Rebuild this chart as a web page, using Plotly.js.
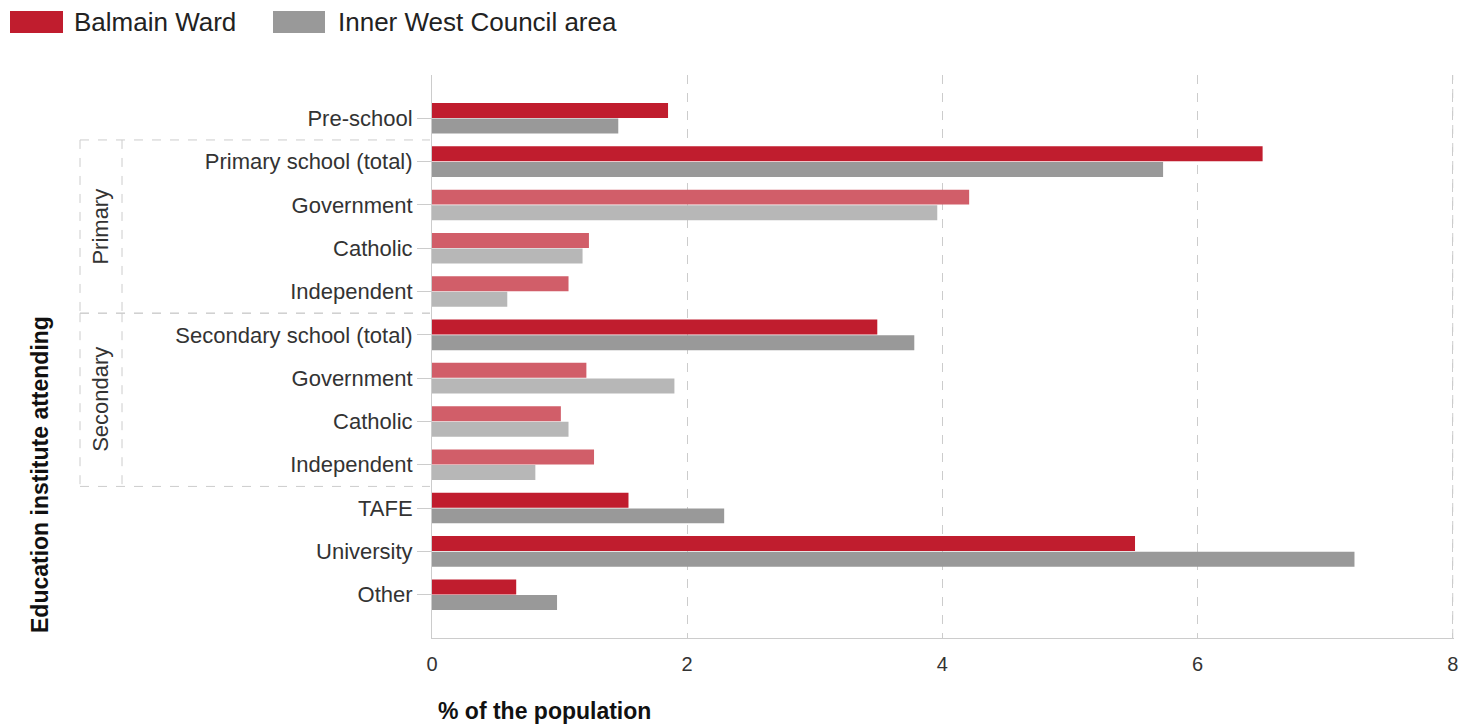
<!DOCTYPE html>
<html>
<head>
<meta charset="utf-8">
<script src="https://cdn.plot.ly/plotly-3.0.1.min.js"></script>
<style>html,body{margin:0;padding:0;background:#fff;}#chart{width:1476px;height:727px;}</style>
</head>
<body>
<div id="chart"></div>
<script>
// ---- data ----
const categories = ["Pre-school","Primary school (total)","Government","Catholic","Independent",
  "Secondary school (total)","Government","Catholic","Independent","TAFE","University","Other"];
const groupOf = ["","Primary","Primary","Primary","Primary","Secondary","Secondary","Secondary","Secondary","","",""];
const isSub = [false,false,true,true,true,false,true,true,true,false,false,false];
const balmainWard = [1.85,6.51,4.21,1.23,1.07,3.49,1.21,1.01,1.27,1.54,5.51,0.66];
const innerWest   = [1.46,5.73,3.96,1.18,0.59,3.78,1.90,1.07,0.81,2.29,7.23,0.98];
const seriesNames = ["Balmain Ward","Inner West Council area"];
const xTicks = [0,2,4,6,8];

// ---- styles ----
const RED = "#c01d2e", RED_L = "#d15e69", GRAY = "#999999", GRAY_L = "#b7b7b7";
const FONT = "'Liberation Sans', Arial, sans-serif";
const idx = categories.map((c,i)=>i);

const W = 1476, H = 727, ML = 432, MR = 22, MT = 75, MB = 89;
const PW = W-ML-MR, PH = H-MT-MB;
const px2x = p => (p-ML)/PW;
const py2y = p => (H-MB-p)/PH;

const traces = [
  {type:"bar", orientation:"h", name:seriesNames[0], x:balmainWard, y:idx,
   marker:{color:isSub.map(s=>s?RED_L:RED)}, showlegend:false, hoverinfo:"x+name"},
  {type:"bar", orientation:"h", name:seriesNames[1], x:innerWest, y:idx,
   marker:{color:isSub.map(s=>s?GRAY_L:GRAY)}, showlegend:false, hoverinfo:"x+name"}
];

// group boxes
const shapes = [];
const annotations = [];
const dash = {color:"#cccccc", width:1, dash:"dash"};
const groups = [];
groupOf.forEach((g,i)=>{
  if(!g) return;
  const last = groups[groups.length-1];
  if(last && last.name===g) last.to=i; else groups.push({name:g, from:i, to:i});
});
groups.forEach(g=>{
  const y0 = g.from-0.5, y1 = g.to+0.5;
  shapes.push({type:"line", xref:"paper", yref:"y", x0:px2x(80), x1:px2x(430), y0:y0, y1:y0, line:dash});
  shapes.push({type:"line", xref:"paper", yref:"y", x0:px2x(80), x1:px2x(430), y0:y1, y1:y1, line:dash});
  shapes.push({type:"line", xref:"paper", yref:"y", x0:px2x(80), x1:px2x(80), y0:y0, y1:y1, line:dash});
  shapes.push({type:"line", xref:"paper", yref:"y", x0:px2x(122), x1:px2x(122), y0:y0, y1:y1, line:dash});
  annotations.push({xref:"paper", yref:"y", x:px2x(101), y:(y0+y1)/2, text:g.name, showarrow:false,
    textangle:-90, font:{family:FONT, size:22, color:"#333"}, xanchor:"center", yanchor:"middle"});
});

// custom legend
const legendItems = [
  {name:seriesNames[0], color:RED, r0:10, r1:63, t:72},
  {name:seriesNames[1], color:GRAY, r0:273, r1:325, t:336}
];
legendItems.forEach(l=>{
  shapes.push({type:"rect", xref:"paper", yref:"paper", x0:px2x(l.r0), x1:px2x(l.r1), y0:py2y(33), y1:py2y(11),
    fillcolor:l.color, line:{width:0}});
  annotations.push({xref:"paper", yref:"paper", x:px2x(l.t), y:py2y(22), text:l.name, showarrow:false,
    xanchor:"left", yanchor:"middle", font:{family:FONT, size:26, color:"#222"}});
});

// vertical grid line at the right edge (x = 8)
shapes.push({type:"line", xref:"x", yref:"paper", x0:8, x1:8, y0:0, y1:1, line:dash, layer:"below"});

// axis titles
annotations.push({xref:"paper", yref:"paper", x:px2x(436), y:py2y(711), text:"<b>% of the population</b>",
  showarrow:false, xanchor:"left", yanchor:"middle", font:{family:FONT, size:23, color:"#111"}});
annotations.push({xref:"paper", yref:"paper", x:px2x(40), y:py2y(475), text:"<b>Education institute attending</b>",
  showarrow:false, textangle:-90, xanchor:"center", yanchor:"middle", font:{family:FONT, size:23, color:"#111"}});

const layout = {
  width:W, height:H,
  margin:{l:ML, r:MR, t:MT, b:MB, pad:0},
  paper_bgcolor:"#fff", plot_bgcolor:"#fff",
  barmode:"group", bargap:0.28, bargroupgap:0.04,
  font:{family:FONT, color:"#333"},
  showlegend:false,
  xaxis:{range:[0,8.01], tickvals:xTicks, ticktext:xTicks.map(String), showgrid:true, gridcolor:"#cccccc", griddash:"dash",
    zeroline:false, showline:true, linecolor:"#cccccc", linewidth:1, ticks:"", ticklabelstandoff:8,
    tickfont:{family:FONT, size:20, color:"#333"}, fixedrange:true},
  yaxis:{range:[12,-1], tickvals:idx, ticktext:categories, showgrid:false, zeroline:false,
    showline:true, linecolor:"#cccccc", linewidth:1, ticks:"outside", ticklen:14, tickcolor:"#cccccc",
    tickfont:{family:FONT, size:22, color:"#333"}, fixedrange:true},
  shapes:shapes, annotations:annotations
};
Plotly.newPlot("chart", traces, layout, {displayModeBar:false, staticPlot:true});
</script>
</body>
</html>
